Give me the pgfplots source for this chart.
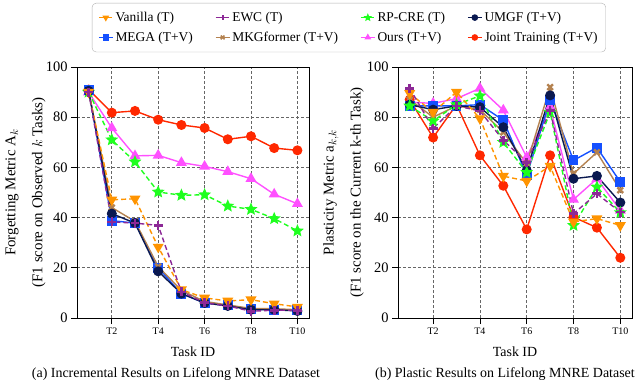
\documentclass[border=0pt]{standalone}
\usepackage{fontspec}
\setmainfont{Liberation Serif}
\usepackage{pgfplots}
\pgfplotsset{compat=1.18}
\usetikzlibrary{plotmarks}

\definecolor{cVan}{RGB}{255,148,0}
\definecolor{cEwc}{RGB}{140,40,150}
\definecolor{cRp}{RGB}{30,255,30}
\definecolor{cUmgf}{RGB}{10,25,80}
\definecolor{cMega}{RGB}{20,80,255}
\definecolor{cMkg}{RGB}{180,130,80}
\definecolor{cOurs}{RGB}{255,80,255}
\definecolor{cJoint}{RGB}{255,40,0}

% filled five-pointed star
\pgfdeclareplotmark{fstar}{%
  \pgfpathmoveto{\pgfpointpolar{90}{\pgfplotmarksize}}%
  \pgfpathlineto{\pgfpointpolar{126}{0.45\pgfplotmarksize}}%
  \pgfpathlineto{\pgfpointpolar{162}{\pgfplotmarksize}}%
  \pgfpathlineto{\pgfpointpolar{198}{0.45\pgfplotmarksize}}%
  \pgfpathlineto{\pgfpointpolar{234}{\pgfplotmarksize}}%
  \pgfpathlineto{\pgfpointpolar{270}{0.45\pgfplotmarksize}}%
  \pgfpathlineto{\pgfpointpolar{306}{\pgfplotmarksize}}%
  \pgfpathlineto{\pgfpointpolar{342}{0.45\pgfplotmarksize}}%
  \pgfpathlineto{\pgfpointpolar{18}{\pgfplotmarksize}}%
  \pgfpathlineto{\pgfpointpolar{54}{0.45\pgfplotmarksize}}%
  \pgfpathclose\pgfusepathqfillstroke}

\pgfplotsset{
  van/.style={cVan, line width=1.4pt, dash pattern=on 5pt off 3pt, mark=triangle*, mark size=5pt, mark options={solid, rotate=180}},
  ewc/.style={cEwc, line width=1.4pt, dash pattern=on 5pt off 3pt, mark=+, mark size=4.5pt, mark options={solid, line width=2.6pt}},
  rp/.style={cRp, line width=1.4pt, dash pattern=on 5pt off 3pt, mark=fstar, mark size=5pt, mark options={solid}},
  umgf/.style={cUmgf, line width=1.4pt, mark=*, mark size=4.3pt},
  mega/.style={cMega, line width=1.4pt, mark=square*, mark size=4.3pt},
  mkg/.style={cMkg, line width=1.4pt, mark=x, mark size=4pt, mark options={line width=2.4pt}},
  ours/.style={cOurs, line width=1.4pt, mark=triangle*, mark size=5pt},
  joint/.style={cJoint, line width=1.4pt, mark=*, mark size=4.3pt},
  myaxis/.style={
    scale only axis, width=232bp, height=251bp,
    xmin=0.5, xmax=10.5, ymin=0, ymax=100,
    xtick={2,4,6,8,10}, xticklabels={T2,T4,T6,T8,T10},
    ytick={0,20,40,60,80,100},
    xtick pos=bottom, ytick pos=left,
    tick align=outside, major tick length=6bp,
    tick style={black, line width=0.8pt},
    axis line style={line width=0.9pt},
    grid=major, grid style={dash pattern=on 3pt off 2pt, black!60, line width=0.8pt},
    /pgf/number format/assume math mode=true,
    yticklabel style={font=\fontsize{14.5}{16}\selectfont},
    xticklabel style={font=\fontsize{10}{11}\selectfont},
    xlabel={Task ID},
    xlabel style={at={(axis description cs:0.5,0)}, anchor=center, yshift=-34bp, font=\fontsize{14}{15}\selectfont},
    ylabel style={anchor=center, align=center, font=\fontsize{15}{27}\selectfont},
    legend image code/.code={\draw[mark repeat=2,mark phase=2,##1, mark size=2.6pt] plot coordinates {(0bp,0bp) (7bp,0bp) (14bp,0bp)};},
  },
}

\begin{document}
\begin{tikzpicture}[x=1bp,y=1bp]
\useasboundingbox (0,0) rectangle (640,384);

\begin{axis}[myaxis, at={(77bp,66bp)}, anchor=south west,
  ylabel={Forgetting Metric A$_k$\\(F1 score on Observed $k$ Tasks)},
  ylabel style={at={(axis description cs:-0.222,0.5)}},
  legend columns=4, legend cell align=left,
  legend style={at={(1.172,1.255)}, anchor=north, draw=black!30, rounded corners=4bp,
    font=\fontsize{13.5}{15}\selectfont, inner xsep=6bp, inner ysep=7bp, row sep=5bp,
    /tikz/every even column/.append style={column sep=20bp}},
]
\addlegendimage{van}\addlegendentry{Vanilla (T)}
\addlegendimage{ewc, mark options={solid, line width=1.8pt}}\addlegendentry{EWC (T)}
\addlegendimage{rp}\addlegendentry{RP-CRE (T)}
\addlegendimage{umgf}\addlegendentry{UMGF (T+V)}
\addlegendimage{mega}\addlegendentry{MEGA (T+V)}
\addlegendimage{mkg, mark options={line width=1.6pt}}\addlegendentry{MKGformer (T+V)}
\addlegendimage{ours}\addlegendentry{Ours (T+V)}
\addlegendimage{joint}\addlegendentry{Joint Training (T+V)}

\addplot[joint, forget plot] coordinates {(1,91) (2,81.8) (3,82.5) (4,79.0) (5,76.9) (6,75.7) (7,71.2) (8,72.4) (9,67.7) (10,66.8)};
\addplot[ours, forget plot] coordinates {(1,90) (2,75.7) (3,64.6) (4,64.8) (5,61.9) (6,60.4) (7,58.3) (8,55.5) (9,49.3) (10,45.5)};
\addplot[rp, forget plot] coordinates {(1,90) (2,71.0) (3,62.2) (4,50.2) (5,48.9) (6,49.1) (7,44.6) (8,43.3) (9,39.6) (10,34.7)};
\addplot[mega, forget plot] coordinates {(1,91) (2,38.8) (3,37.8) (4,20.0) (5,9.7) (6,6.0) (7,5.0) (8,3.5) (9,3.3) (10,3.0)};
\addplot[mkg, forget plot] coordinates {(1,90.5) (2,44.0) (3,38.5) (4,20.5) (5,11.0) (6,6.6) (7,5.2) (8,3.8) (9,3.7) (10,3.3)};
\addplot[umgf, forget plot] coordinates {(1,90.5) (2,41.6) (3,37.8) (4,18.6) (5,9.7) (6,6.0) (7,4.8) (8,3.3) (9,3.3) (10,2.8)};
\addplot[van, forget plot] coordinates {(1,90) (2,47.1) (3,47.5) (4,28.3) (5,11.3) (6,8.0) (7,6.8) (8,7.3) (9,5.7) (10,4.4)};
\addplot[ewc, forget plot] coordinates {(1,90) (2,38.3) (3,37.8) (4,36.9) (5,10.4) (6,6.1) (7,4.8) (8,2.7) (9,3.1) (10,3.1)};
\end{axis}

\begin{axis}[myaxis, at={(398bp,66bp)}, anchor=south west, width=234bp,
  ylabel={Plasticity Metric a$_{k,k}$\\(F1 score on the Current k-th Task)},
  ylabel style={at={(axis description cs:-0.233,0.5)}},
]
\addplot[joint] coordinates {(1,87) (2,71.9) (3,85) (4,64.8) (5,52.7) (6,35.3) (7,64.8) (8,40.2) (9,36) (10,24)};
\addplot[ours] coordinates {(1,86) (2,85.5) (3,87.4) (4,91.5) (5,82.8) (6,64) (7,84) (8,47.2) (9,55.5) (10,42.9)};
\addplot[mega] coordinates {(1,84.5) (2,84.5) (3,84.5) (4,85) (5,78.8) (6,56.8) (7,86.7) (8,62.8) (9,67.9) (10,54.2)};
\addplot[mkg] coordinates {(1,87) (2,80) (3,84.5) (4,83) (5,74) (6,61.5) (7,92) (8,57.5) (9,66) (10,50.9)};
\addplot[umgf] coordinates {(1,85) (2,83) (3,84.5) (4,84) (5,76) (6,58.8) (7,88.7) (8,55.5) (9,56.6) (10,46)};
\addplot[rp] coordinates {(1,84.5) (2,78.5) (3,85) (4,88.5) (5,70) (6,58) (7,82) (8,36.9) (9,52.2) (10,42)};
\addplot[van] coordinates {(1,89.5) (2,82) (3,90) (4,79.5) (5,56.5) (6,54.6) (7,60.5) (8,38.3) (9,39.6) (10,36.9)};
\addplot[ewc] coordinates {(1,91.5) (2,75.5) (3,84.5) (4,82.5) (5,70.8) (6,62) (7,82.7) (8,41.6) (9,49.5) (10,42.2)};
\end{axis}

\node[font=\fontsize{14}{16}\selectfont] at (176,10) {(a) Incremental Results on Lifelong MNRE Dataset};
\node[font=\fontsize{14}{16}\selectfont] at (505,10) {(b) Plastic Results on Lifelong MNRE Dataset};
\end{tikzpicture}
\end{document}
